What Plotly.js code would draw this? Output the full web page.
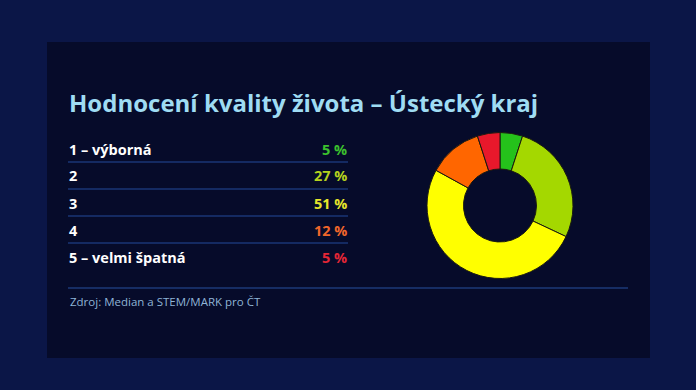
<!DOCTYPE html>
<html>
<head>
<meta charset="utf-8">
<script src="https://cdn.plot.ly/plotly-3.0.1.min.js"></script>
<style>html,body{margin:0;padding:0;background:#0a1440;}#chart{width:696px;height:390px;}</style>
</head>
<body>
<div id="chart"></div>
<script>
const categories = ["1 – výborná", "2", "3", "4", "5 – velmi špatná"];
const values = [5, 27, 51, 12, 5];
const valueLabels = ["5 %", "27 %", "51 %", "12 %", "5 %"];
const sliceColors = ["#25c21b", "#a4d800", "#ffff00", "#ff6600", "#e8182b"];
const textColors = ["#3cc12e", "#b5d21e", "#e6e62a", "#f0662a", "#e32636"];
const titleText = "Hodnocení kvality života – Ústecký kraj";
const sourceText = "Zdroj: Median a STEM/MARK pro ČT";

const W = 696, H = 390;
const px = x => x / W, py = y => 1 - y / H;

const trace = {
  type: "pie",
  values: values,
  labels: categories,
  marker: {colors: sliceColors, line: {color: "#1a1a10", width: 1}},
  hole: 0.5,
  sort: false,
  direction: "clockwise",
  rotation: 0,
  textinfo: "none",
  hoverinfo: "label+percent",
  showlegend: false,
  domain: {x: [px(427), px(573)], y: [py(279), py(132)]}
};

const annotations = [];
annotations.push({xref: "paper", yref: "paper", x: px(67), y: py(103), xanchor: "left", yanchor: "middle",
  text: "<b>" + titleText + "</b>", showarrow: false,
  font: {family: "Open Sans, sans-serif", size: 24, color: "#9fdcf3"}});
const shapes = [
  {type: "rect", xref: "paper", yref: "paper", x0: 0, x1: 1, y0: 0, y1: 1, fillcolor: "#0b1647", line: {width: 0}, layer: "below"},
  {type: "rect", xref: "paper", yref: "paper", x0: px(47), x1: px(650), y0: py(358), y1: py(42), fillcolor: "#060b2a", line: {width: 0}, layer: "below"}
];
const rowY0 = 149, rowStep = 27;
categories.forEach((c, i) => {
  const y = rowY0 + i * rowStep;
  annotations.push({xref: "paper", yref: "paper", x: px(67), y: py(y), xanchor: "left", yanchor: "middle",
    text: "<b>" + c + "</b>", showarrow: false,
    font: {family: "Open Sans, sans-serif", size: 14.5, color: "#ffffff"}});
  annotations.push({xref: "paper", yref: "paper", x: px(349), y: py(y), xanchor: "right", yanchor: "middle",
    text: "<b>" + valueLabels[i] + "</b>", showarrow: false,
    font: {family: "Open Sans, sans-serif", size: 14.5, color: textColors[i]}});
  if (i < categories.length - 1) {
    shapes.push({type: "line", xref: "paper", yref: "paper", x0: px(68), x1: px(348), y0: py(y + 13), y1: py(y + 13),
      line: {color: "#1a3676", width: 1.3}});
  }
});
shapes.push({type: "line", xref: "paper", yref: "paper", x0: px(68), x1: px(628), y0: py(288), y1: py(288),
  line: {color: "#1d3a78", width: 1.3}});
annotations.push({xref: "paper", yref: "paper", x: px(68), y: py(301), xanchor: "left", yanchor: "middle",
  text: sourceText, showarrow: false,
  font: {family: "Open Sans, sans-serif", size: 11.5, color: "#8fb4d6"}});

const layout = {
  width: W, height: H,
  margin: {l: 0, r: 0, t: 0, b: 0},
  paper_bgcolor: "#0b1647",
  plot_bgcolor: "rgba(0,0,0,0)",
  showlegend: false,
  annotations: annotations,
  shapes: shapes
};
Plotly.newPlot("chart", [trace], layout, {displayModeBar: false, staticPlot: true});
</script>
</body>
</html>
